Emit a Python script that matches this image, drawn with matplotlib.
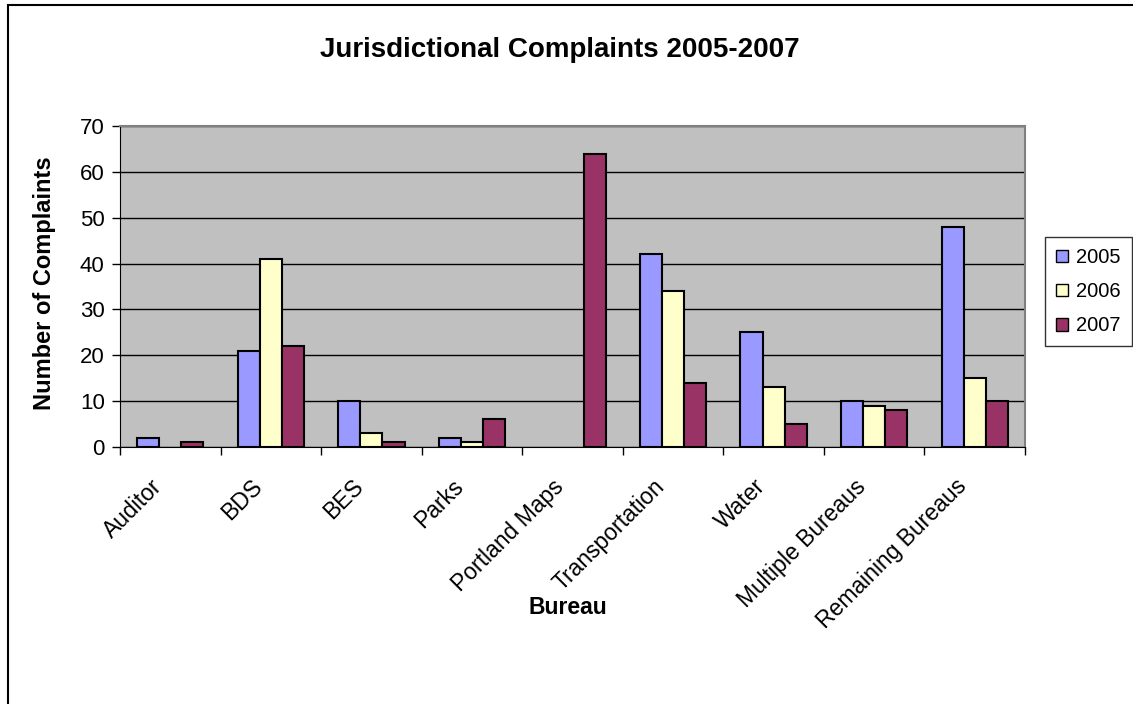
import matplotlib
matplotlib.use("Agg")
import matplotlib.pyplot as plt
from matplotlib.patches import Rectangle, Patch
from matplotlib.transforms import ScaledTranslation
import numpy as np

plt.rcParams['font.family'] = ['Liberation Sans', 'DejaVu Sans']

bureaus = ["Auditor", "BDS", "BES", "Parks", "Portland Maps",
           "Transportation", "Water", "Multiple Bureaus", "Remaining Bureaus"]
years = ["2005", "2006", "2007"]
c2005 = [2, 21, 10, 2, 0, 42, 25, 10, 48]
c2006 = [0, 41, 3, 1, 0, 34, 13, 9, 15]
c2007 = [1, 22, 1, 6, 64, 14, 5, 8, 10]
colors = ["#9999FF", "#FFFFCC", "#993366"]

fig = plt.figure(figsize=(11.33, 7.04), dpi=100)
fig.patch.set_facecolor("white")
# outer chart frame
fig.patches.append(Rectangle((8 / 1133, -0.05), 1.1, 1.05 - 5 / 704,
                             transform=fig.transFigure, fill=False,
                             edgecolor="black", linewidth=1.5, zorder=0))

ax = fig.add_axes([120 / 1133, 1 - 447 / 704, 905 / 1133, 321 / 704])
ax.set_facecolor("#C0C0C0")

x = np.arange(len(bureaus))
w = 0.22
for i, (vals, col) in enumerate(zip([c2005, c2006, c2007], colors)):
    bars = ax.bar(x + (i - 1) * w, vals, width=w, color=col, edgecolor="black",
                  linewidth=1.5, zorder=3)
    # empty categories leave no mark
    for b, v in zip(bars, vals):
        if v == 0:
            b.set_visible(False)

ax.set_xlim(-0.5, len(bureaus) - 0.5)
ax.set_ylim(0, 70)
ax.set_yticks(range(0, 71, 10))
ax.yaxis.grid(True, color="black", linewidth=1, zorder=1)
ax.set_axisbelow(True)

# tick marks at category boundaries, category names under each group
ax.set_xticks(np.arange(-0.5, len(bureaus), 1.0))
ax.set_xticklabels([])
ax.tick_params(axis="x", which="major", length=6, width=1, direction="out")
ax.tick_params(axis="y", length=6, width=1, direction="out", labelsize=16, pad=5)
label_tr = ax.get_xaxis_transform() + ScaledTranslation(-20 / 100, -28 / 100,
                                                        fig.dpi_scale_trans)
for xi, name in zip(x, bureaus):
    ax.text(xi, 0, name, transform=label_tr, rotation=45, ha="right", va="top",
            rotation_mode="anchor", fontsize=16.5, clip_on=False)

for side in ["top", "right"]:
    ax.spines[side].set_color("#808080")
    ax.spines[side].set_linewidth(1.5)
ax.spines["left"].set_color("black")
ax.spines["bottom"].set_color("black")

fig.text(45 / 1133, 1 - 283 / 704, "Number of Complaints", fontsize=17,
         fontweight="bold", rotation=90, ha="center", va="center")
fig.text(568 / 1133, 1 - 608 / 704, "Bureau", fontsize=16.5, fontweight="bold",
         ha="center", va="center")
fig.text(560 / 1133, 1 - 50 / 704, "Jurisdictional Complaints 2005-2007",
         fontsize=20, fontweight="bold", ha="center", va="center")

handles = [Patch(facecolor=c, edgecolor="black", linewidth=1, label=y)
           for c, y in zip(colors, years)]
leg = fig.legend(handles=handles, loc="upper left",
                 bbox_to_anchor=(1045 / 1133, 1 - 237 / 704),
                 frameon=True, fancybox=False, edgecolor="black", fontsize=14.5,
                 handlelength=0.6, handleheight=0.6, handletextpad=0.4,
                 labelspacing=0.75, borderpad=0.55, borderaxespad=0)
leg.get_frame().set_linewidth(1)

fig.savefig("out.png", dpi=100)
